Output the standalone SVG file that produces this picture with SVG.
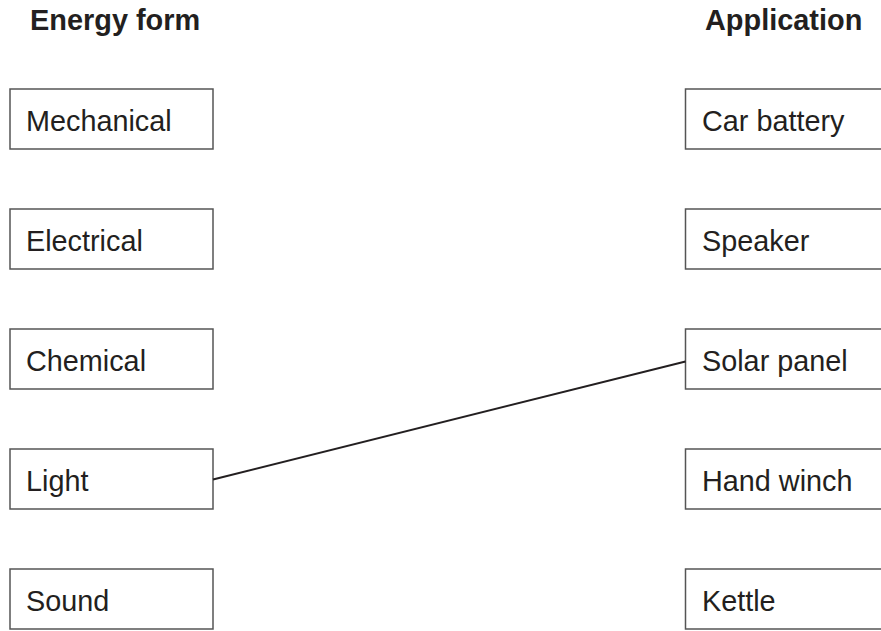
<svg xmlns="http://www.w3.org/2000/svg" width="881" height="631" viewBox="0 0 881 631">
<style>
.box{fill:#fff;stroke:#555;stroke-width:1.5}
.lbl{font-family:"Liberation Sans",Arial,sans-serif;font-size:28.8px;fill:#231f20}
.hdr{font-family:"Liberation Sans",Arial,sans-serif;font-size:28.9px;font-weight:bold;fill:#231f20}
.conn{stroke:#231f20;stroke-width:2;fill:none}
</style>
<rect width="881" height="631" fill="#fff"/>
<text class="hdr" x="30" y="30">Energy form</text>
<text class="hdr" x="705" y="30">Application</text>
<g id="left-mechanical"><rect class="box" x="10" y="89" width="203" height="60"/><text class="lbl" x="26" y="130.5">Mechanical</text></g>
<g id="left-electrical"><rect class="box" x="10" y="209" width="203" height="60"/><text class="lbl" x="26" y="250.5">Electrical</text></g>
<g id="left-chemical"><rect class="box" x="10" y="329" width="203" height="60"/><text class="lbl" x="26" y="370.5">Chemical</text></g>
<g id="left-light"><rect class="box" x="10" y="449" width="203" height="60"/><text class="lbl" x="26" y="490.5">Light</text></g>
<g id="left-sound"><rect class="box" x="10" y="569" width="203" height="60"/><text class="lbl" x="26" y="610.5">Sound</text></g>
<g id="right-car-battery"><rect class="box" x="685.5" y="89" width="220" height="60"/><text class="lbl" x="702" y="130.5">Car battery</text></g>
<g id="right-speaker"><rect class="box" x="685.5" y="209" width="220" height="60"/><text class="lbl" x="702" y="250.5">Speaker</text></g>
<g id="right-solar-panel"><rect class="box" x="685.5" y="329" width="220" height="60"/><text class="lbl" x="702" y="370.5">Solar panel</text></g>
<g id="right-hand-winch"><rect class="box" x="685.5" y="449" width="220" height="60"/><text class="lbl" x="702" y="490.5">Hand winch</text></g>
<g id="right-kettle"><rect class="box" x="685.5" y="569" width="220" height="60"/><text class="lbl" x="702" y="610.5">Kettle</text></g>
<g id="connectors"><line class="conn" x1="213" y1="479.5" x2="685.5" y2="361.5"/></g>
</svg>
